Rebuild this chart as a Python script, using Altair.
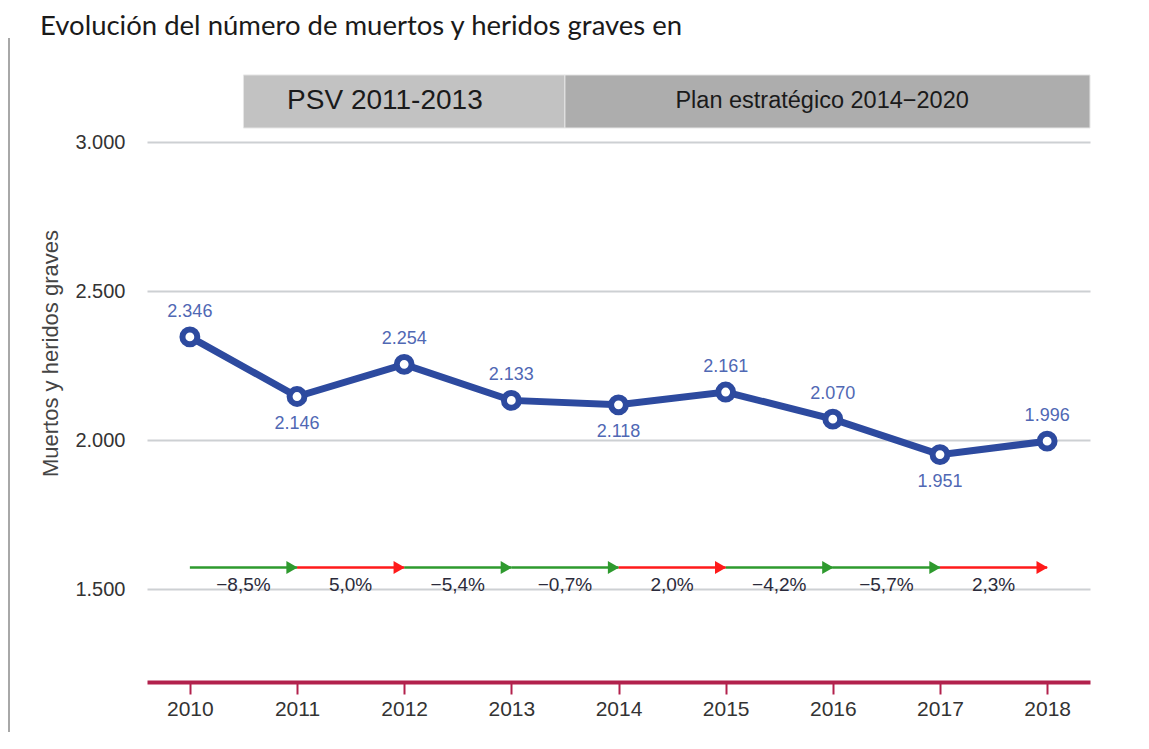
import altair as alt
import pandas as pd

# ---- data ----
years = [2010, 2011, 2012, 2013, 2014, 2015, 2016, 2017, 2018]
values = [2346, 2146, 2254, 2133, 2118, 2161, 2070, 1951, 1996]
label_side = ["above", "below", "above", "above", "below", "above", "above", "below", "above"]

pct_labels = ["−8,5%", "5,0%", "−5,4%", "−0,7%", "2,0%", "−4,2%", "−5,7%", "2,3%"]
pct_dir = ["baja", "sube", "baja", "baja", "sube", "baja", "baja", "sube"]

periods = ["PSV 2011-2013", "Plan estratégico 2014−2020"]
period_start = [2010.5, 2013.5]
period_end = [2013.5, 2018.4]
period_label_x = [2011.82, 2015.9]
period_font = [28, 23.5]

y_ticks = [1500, 2000, 2500, 3000]
x_domain = [2009.6, 2018.4]
y_domain = [1188, 3000]
arrow_level = 1572
pct_level = 1513
header_low, header_high = 3047, 3225

BLUE = "#2d4a9f"
LABEL_BLUE = "#5068b4"
CRIMSON = "#b2214c"
GREEN = "#2e9a2e"
RED = "#ff1a1a"
FONT = "Liberation Sans"

def fmt_thousands(v):
    return f"{v:,}".replace(",", ".")

main = pd.DataFrame({
    "year": years,
    "value": values,
    "label": [fmt_thousands(v) for v in values],
    "side": label_side,
})

steps = pd.DataFrame({
    "x0": years[:-1],
    "x1": years[1:],
    "mid": [(a + b) / 2 for a, b in zip(years[:-1], years[1:])],
    "pct": pct_labels,
    "dir": pct_dir,
    "level": [arrow_level] * len(pct_labels),
    "tlevel": [pct_level] * len(pct_labels),
})

hdr = pd.DataFrame({
    "name": periods,
    "x0": period_start,
    "x1": period_end,
    "tx": period_label_x,
    "fs": period_font,
    "lo": [header_low] * 2,
    "hi": [header_high] * 2,
    "mid": [(header_low + header_high) / 2] * 2,
})

xs = alt.Scale(domain=x_domain, nice=False, zero=False)
ys = alt.Scale(domain=y_domain, nice=False, zero=False)

x_axis = alt.Axis(
    values=years, format="d", title=None, grid=False,
    domainColor=CRIMSON, domainWidth=4, tickColor=CRIMSON, tickWidth=2, tickSize=12,
    labelFont=FONT, labelFontSize=21, labelColor="#333333", labelPadding=4,
)
y_axis = alt.Axis(
    values=y_ticks, title="Muertos y heridos graves",
    labelExpr="replace(format(datum.value, ',d'), ',', '.')",
    domain=False, ticks=False, grid=True, gridColor="#cdd0d3", gridWidth=2,
    labelFont=FONT, labelFontSize=20, labelColor="#333333", labelPadding=22,
    titleFont=FONT, titleFontSize=22, titleFontWeight="normal", titleColor="#444444",
    titleAngle=-90, titleX=-107, titleY=211, titleBaseline="top",
)

def X(field):
    return alt.X(field, scale=xs, axis=x_axis)

def Y(field):
    return alt.Y(field, scale=ys, axis=y_axis)

header_rects = alt.Chart(hdr).mark_rect(stroke="#e6e6e6", strokeWidth=1).encode(
    x=X("x0:Q"), x2="x1:Q", y=Y("lo:Q"), y2="hi:Q",
    color=alt.condition(alt.datum.name == periods[0], alt.value("#c2c2c2"), alt.value("#adadad")),
)
header_text = alt.Chart(hdr).mark_text(font=FONT, color="#1a1a1a", baseline="middle", align="center").encode(
    x=X("tx:Q"), y=Y("mid:Q"),
    text="name:N",
    size=alt.Size("fs:Q", scale=None, legend=None),
)

dir_color = alt.condition(alt.datum.dir == "sube", alt.value(RED), alt.value(GREEN))
arrows = alt.Chart(steps).mark_rule(strokeWidth=2.5).encode(
    x=X("x0:Q"), x2="x1:Q", y=Y("level:Q"), color=dir_color,
)
heads = alt.Chart(steps).mark_point(shape="triangle-right", filled=True, size=170, opacity=1, xOffset=-5).encode(
    x=X("x1:Q"), y=Y("level:Q"), color=dir_color,
)
pct_text = alt.Chart(steps).mark_text(font=FONT, fontSize=19, color="#2b2b3b", baseline="middle").encode(
    x=X("mid:Q"), y=Y("tlevel:Q"), text="pct:N",
)

line = alt.Chart(main).mark_line(color=BLUE, strokeWidth=7).encode(
    x=X("year:Q"), y=Y("value:Q"),
)
points = alt.Chart(main).mark_point(filled=True, fill="white", stroke=BLUE, strokeWidth=6, size=220, opacity=1).encode(
    x=X("year:Q"), y=Y("value:Q"),
)
lab_above = alt.Chart(main).transform_filter(alt.datum.side == "above").mark_text(
    font=FONT, fontSize=18, color=LABEL_BLUE, baseline="middle", dy=-25
).encode(x=X("year:Q"), y=Y("value:Q"), text="label:N")
lab_below = alt.Chart(main).transform_filter(alt.datum.side == "below").mark_text(
    font=FONT, fontSize=18, color=LABEL_BLUE, baseline="middle", dy=27
).encode(x=X("year:Q"), y=Y("value:Q"), text="label:N")

left_bar = alt.Chart(main).mark_rule(color="#a8a8a8", strokeWidth=2).encode(
    x=alt.value(-138), y=alt.value(-104), y2=alt.value(620)
)

chart = alt.layer(
    header_rects, header_text, arrows, heads, pct_text, line, points, lab_above, lab_below, left_bar
).properties(
    width=943,
    height=540,
    padding={"left": 139, "top": 134, "right": 40, "bottom": 50},
    autosize=alt.AutoSizeParams(type="none"),
    title=alt.TitleParams(
        "Evolución del número de muertos y heridos graves en",
        anchor="start", frame="group", orient="top", dx=-107, dy=28, offset=3,
        baseline="alphabetic",
        font="Lato", fontSize=27.5, fontWeight="normal", color="#1a1a1a",
    ),
).configure_view(stroke=None)

chart.save("out.html", embed_options={"renderer": "svg", "actions": False})
